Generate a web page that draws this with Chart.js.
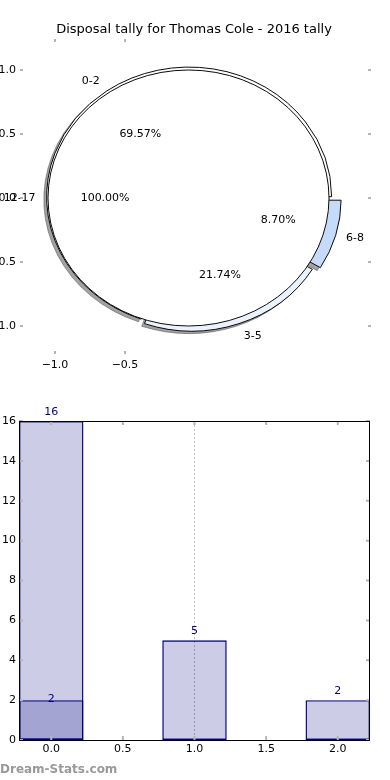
<!DOCTYPE html>
<html>
<head>
<meta charset="utf-8">
<script src="https://cdn.jsdelivr.net/npm/chart.js@4.4.1/dist/chart.umd.min.js"></script>
<style>
    html, body { margin: 0; padding: 0; background: #fff; }
    #wrap { position: relative; width: 390px; height: 780px; }
    .layer { position: absolute; left: 0; }
</style>
</head>
<body>
<div id="wrap">
    <canvas id="pieBack" class="layer" style="top:0" width="390" height="390"></canvas>
    <canvas id="pieFront" class="layer" style="top:0" width="390" height="390"></canvas>
    <canvas id="barChart" class="layer" style="top:390px" width="390" height="390"></canvas>
</div>
<script>
// pie data (matplotlib order: counter-clockwise from 3 o'clock)
const pieLabels = ["0-2", "3-5", "6-8"];
const pieValues = [16, 5, 2];
const restLabels = ["12-17"];
const restValues = [2];

// axis ticks of the pie panel
const pieYTicks = [1.0, 0.5, 0.0, -0.5, -1.0];
const pieXTicks = [-1.0, -0.5];

// bar data
const barPositions = [0, 1, 2];
const barValues = [16, 5, 2];
const overlayPositions = [0];
const overlayValues = [2];

// styles
const pieColors = ["#ffffff", "#ebf2fd", "#c6daf9"];
const pieOffsets = [6, 21, 28];
const squashY = 0.911;
const titleText = "Disposal tally for Thomas Cole - 2016 tally";
const FONT = "'DejaVu Sans', Verdana, sans-serif";

Chart.defaults.font.family = FONT;
Chart.defaults.font.size = 11;
Chart.defaults.color = "#000";

const minus = v => (v < 0 ? "\u2212" + Math.abs(v).toFixed(1) : v.toFixed(1));

// squash the round pie into the ellipse of the reference
const squash = {
    id: "squash",
    beforeDatasetsDraw(chart) {
        const { ctx, chartArea } = chart;
        const cy = (chartArea.top + chartArea.bottom) / 2;
        ctx.save();
        ctx.translate(0, cy);
        ctx.scale(1, squashY);
        ctx.translate(0, -cy);
    },
    afterDatasetsDraw(chart) {
        chart.ctx.restore();
    }
};

function arcGeom(el) {
    const off = (el.options.offset || 0) / 4;
    const mid = (el.startAngle + el.endAngle) / 2;
    const circ = el.endAngle - el.startAngle;
    const fix = 1 - Math.sin(Math.min(Math.PI, circ));
    return {
        off, mid, circ,
        cx: el.x + Math.cos(mid) * off,
        cy: el.y + Math.sin(mid) * off,
        r: el.outerRadius + off * fix
    };
}

// matplotlib style drop shadow under every wedge
const shadow = {
    id: "shadow",
    beforeDatasetsDraw(chart) {
        const ctx = chart.ctx;
        const meta = chart.getDatasetMeta(0);
        meta.data.forEach(el => {
            const g = arcGeom(el);
            const dx = -0.02 * g.r, dy = 0.02 * g.r;
            ctx.save();
            ctx.beginPath();
            ctx.moveTo(g.cx + dx, g.cy + dy);
            ctx.arc(g.cx + dx, g.cy + dy, g.r, el.startAngle, el.endAngle);
            ctx.closePath();
            ctx.fillStyle = "rgba(70,70,70,0.5)";
            ctx.strokeStyle = "rgba(70,70,70,0.5)";
            ctx.fill();
            ctx.stroke();
            ctx.restore();
        });
    }
};

// full-circle wedge: fill and outline without the radial seam
const outline = {
    id: "outline",
    afterDatasetsDraw(chart) {
        const ctx = chart.ctx;
        chart.getDatasetMeta(0).data.forEach(el => {
            const g = arcGeom(el);
            ctx.save();
            ctx.beginPath();
            ctx.arc(g.cx, g.cy, g.r, 0, Math.PI * 2);
            ctx.fillStyle = el.options.backgroundColor;
            ctx.fill();
            ctx.strokeStyle = "#000";
            ctx.lineWidth = 1;
            ctx.stroke();
            ctx.restore();
        });
    }
};

function drawPieText(ctx, chart) {
    const meta = chart.getDatasetMeta(0);
    const values = chart.data.datasets[0].data;
    const total = values.reduce((a, b) => a + b, 0);
    ctx.save();
    ctx.font = "11px " + FONT;
    ctx.fillStyle = "#000";
    ctx.textBaseline = "middle";
    meta.data.forEach((el, i) => {
        const g = arcGeom(el);
        const r = el.outerRadius;
        const c = Math.cos(g.mid), s = Math.sin(g.mid);
        const d1 = 1.1 * r + g.off;
        ctx.textAlign = c < 0 ? "right" : "left";
        ctx.fillText(chart.data.labels[i], el.x + c * d1, el.y + s * d1 * squashY);
        const d2 = 0.6 * r + g.off;
        ctx.textAlign = "center";
        ctx.fillText((values[i] / total * 100).toFixed(2) + "%", el.x + c * d2, el.y + s * d2 * squashY);
    });
    ctx.restore();
}

let backChart = null;

// title, labels of both pies and the bare matplotlib axes
const pieFrame = {
    id: "pieFrame",
    afterDraw(chart) {
        const ctx = chart.ctx;
        if (backChart) drawPieText(ctx, backChart);
        drawPieText(ctx, chart);
        const yPix = v => 198 - v * 128;
        const xPix = v => 195 + v * 140;
        ctx.save();
        ctx.fillStyle = "#000";
        ctx.font = "13px " + FONT;
        ctx.textAlign = "center";
        ctx.textBaseline = "middle";
        ctx.fillText(titleText, 194, 30);

        ctx.strokeStyle = "#b5b5b5";
        ctx.lineWidth = 2;
        ctx.font = "11px " + FONT;
        pieYTicks.forEach(v => {
            const y = yPix(v);
            ctx.beginPath();
            ctx.moveTo(20, y); ctx.lineTo(23, y);
            ctx.moveTo(368, y); ctx.lineTo(371, y);
            ctx.stroke();
            ctx.textAlign = "right";
            ctx.fillText(minus(v), 16, y);
        });
        pieXTicks.forEach(v => {
            const x = xPix(v);
            ctx.beginPath();
            ctx.moveTo(x, 39); ctx.lineTo(x, 42);
            ctx.moveTo(x, 351); ctx.lineTo(x, 354);
            ctx.stroke();
            ctx.textAlign = "center";
            ctx.fillText(minus(v), x, 365);
        });
        ctx.restore();
    }
};

const pieBase = {
    responsive: false,
    animation: false,
    events: [],
    rotation: 90,
    layout: { padding: { left: 48, right: 58, top: 56, bottom: 50 } },
    plugins: { legend: { display: false }, tooltip: { enabled: false } }
};

// back pie: the three tallies
backChart = new Chart(document.getElementById("pieBack"), {
    type: "pie",
    data: {
        labels: pieLabels.slice().reverse(),
        datasets: [{
            data: pieValues.slice().reverse(),
            backgroundColor: pieColors.slice().reverse(),
            offset: pieOffsets.slice().reverse(),
            borderColor: "#000",
            borderWidth: 1,
            clip: false
        }]
    },
    options: Object.assign({}, pieBase, { radius: 141 }),
    plugins: [squash, shadow]
});

// front pie: single 100% wedge drawn over the first
new Chart(document.getElementById("pieFront"), {
    type: "pie",
    data: {
        labels: restLabels,
        datasets: [{
            data: restValues,
            backgroundColor: "#ffffff",
            offset: 6,
            borderWidth: 0,
            clip: false
        }]
    },
    options: Object.assign({}, pieBase, { radius: 139 }),
    plugins: [outline, squash, pieFrame]
});

// bar chart
const barDecor = {
    id: "barDecor",
    afterDraw(chart) {
        const { ctx, chartArea: a, scales } = chart;
        ctx.save();
        // inner tick marks
        ctx.strokeStyle = "#b5b5b5";
        ctx.lineWidth = 2;
        scales.x.ticks.forEach(t => {
            const x = scales.x.getPixelForValue(t.value);
            ctx.beginPath();
            ctx.moveTo(x, a.top); ctx.lineTo(x, a.top + 4);
            ctx.moveTo(x, a.bottom); ctx.lineTo(x, a.bottom - 4);
            ctx.stroke();
        });
        scales.y.ticks.forEach(t => {
            const y = scales.y.getPixelForValue(t.value);
            ctx.beginPath();
            ctx.moveTo(a.left, y); ctx.lineTo(a.left + 4, y);
            ctx.moveTo(a.right, y); ctx.lineTo(a.right - 4, y);
            ctx.stroke();
        });
        // frame
        ctx.strokeStyle = "#000";
        ctx.lineWidth = 1;
        ctx.strokeRect(a.left + 0.5, a.top + 0.5, a.right - a.left - 1, a.bottom - a.top);
        // value labels
        ctx.fillStyle = "#000080";
        ctx.font = "11px " + FONT;
        ctx.textAlign = "center";
        ctx.textBaseline = "middle";
        chart.data.datasets.forEach((ds, di) => {
            chart.getDatasetMeta(di).data.forEach((bar, i) => {
                ctx.fillText(String(ds.data[i].y), bar.x, bar.y - (di === 0 ? 9 : 1));
            });
        });
        // watermark
        ctx.fillStyle = "#999";
        ctx.font = "bold 12px " + FONT;
        ctx.textAlign = "left";
        ctx.fillText("Dream-Stats.com", 0, 380);
        ctx.restore();
    }
};

const barStyle = {
    backgroundColor: "rgba(0,0,128,0.2)",
    borderColor: "#000080",
    borderWidth: 1.4,
    borderSkipped: false,
    barPercentage: 0.9,
    categoryPercentage: 1,
    grouped: false
};

new Chart(document.getElementById("barChart"), {
    type: "bar",
    data: {
        datasets: [
            Object.assign({ data: barPositions.map((x, i) => ({ x: x, y: barValues[i] })) }, barStyle),
            Object.assign({ data: overlayPositions.map((x, i) => ({ x: x, y: overlayValues[i] })) }, barStyle)
        ]
    },
    options: {
        responsive: false,
        animation: false,
        events: [],
        layout: { padding: { left: 0, right: 20, top: 31, bottom: 0 } },
        plugins: { legend: { display: false }, tooltip: { enabled: false } },
        scales: {
            x: {
                type: "linear",
                min: -0.225,
                max: 2.225,
                offset: false,
                afterFit: s => { s.height = 40; },
                border: { display: false, dash: [2, 2] },
                grid: {
                    offset: false,
                    drawTicks: false,
                    color: c => (c.tick && c.tick.value === 1 ? "#bdbdbd" : "rgba(0,0,0,0)")
                },
                ticks: {
                    stepSize: 0.5,
                    includeBounds: false,
                    padding: 3,
                    callback: v => v.toFixed(1)
                }
            },
            y: {
                min: 0,
                max: 16,
                afterFit: s => { s.width = 19; },
                border: { display: false },
                grid: { display: false, drawTicks: false },
                ticks: { stepSize: 2, padding: 3 }
            }
        }
    },
    plugins: [barDecor]
});
</script>
</body>
</html>
